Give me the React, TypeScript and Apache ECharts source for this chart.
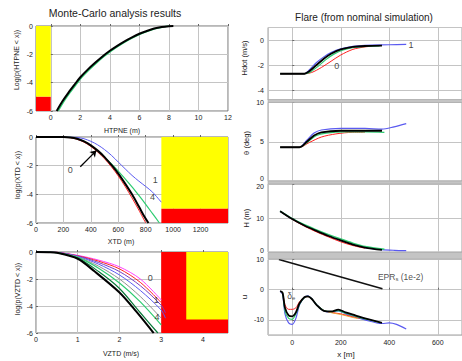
import { useEffect, useRef } from "react";
import * as echarts from "echarts";

// ---------- Left: Monte-Carlo results ----------
// HTPNE (m) vs log probability
const htpneBlack = [[0.4,-6],[0.8,-5.3],[1.2,-4.7],[1.6,-4.15],[2,-3.62],[2.5,-3.08],[3,-2.6],[3.5,-2.15],[4,-1.75],[4.5,-1.4],[5,-1.08],[5.5,-0.8],[6,-0.55],[6.5,-0.35],[7,-0.18],[7.5,-0.07],[8,-0.01],[8.3,0]];
const htpneGreen = [[0.5,-6],[0.9,-5.3],[1.3,-4.7],[1.7,-4.15],[2.1,-3.62],[2.6,-3.08],[3.1,-2.6],[3.6,-2.15],[4.1,-1.75],[4.6,-1.4],[5.1,-1.08],[5.6,-0.8],[6.1,-0.55],[6.6,-0.35],[7.1,-0.18],[7.6,-0.07],[8,0]];
const htpneYellow = [[-1, 0], [0, -5]];
const htpneRed = [[-1, -5], [0, -6]];

// XTD (m)
const xtdBlack = [[0,0],[200,0],[250,-0.03],[300,-0.12],[350,-0.3],[400,-0.58],[450,-0.95],[500,-1.4],[550,-1.95],[600,-2.55],[650,-3.25],[700,-4.0],[750,-4.85],[790,-5.55],[820,-6]];
const xtdRed = [[0,0],[180,0],[250,-0.05],[300,-0.16],[350,-0.36],[400,-0.66],[450,-1.05],[500,-1.52],[550,-2.08],[600,-2.72],[650,-3.45],[700,-4.25],[750,-5.1],[800,-6]];
const xtdGreen = [[0,0],[200,0],[250,-0.03],[300,-0.12],[350,-0.3],[400,-0.62],[450,-1.0],[500,-1.42],[550,-1.88],[600,-2.38],[650,-2.92],[700,-3.48],[750,-4.08],[800,-4.7],[850,-5.35],[900,-6]];
const xtdBlue = [[0,0],[250,0],[300,-0.03],[350,-0.12],[400,-0.3],[450,-0.55],[500,-0.88],[550,-1.28],[600,-1.75],[650,-2.22],[700,-2.68],[750,-3.08],[800,-3.45],[850,-3.85],[914,-4.55]];
const xtdYellow = [[914, 0], [1400, -5]];
const xtdRed2 = [[914, -5], [1400, -6]];
const xtdArrow = [[323, -2.07], [440, -0.95]];
const xtdLabels = [{ v: [249, -2.3], t: "0" }, { v: [870, -3.0], t: "1" }, { v: [850, -4.2], t: "4" }];

// VZTD (m/s)
const vztdBlack = [[0,0],[0.3,-0.01],[0.5,-0.05],[1.0,-0.5],[1.4,-1.43],[2.0,-3.0],[2.4,-4.4],[2.82,-6]];
const vztdDarkGreen = [[0,0],[0.3,-0.01],[0.5,-0.05],[1.0,-0.45],[1.5,-1.45],[2.0,-2.7],[2.5,-4.5],[2.92,-6]];
const vztdGreen = [[0,0],[0.3,-0.01],[0.5,-0.04],[1.0,-0.4],[1.5,-1.2],[2.0,-2.3],[2.5,-3.7],[3.0,-5.4]];
const vztdGray = [[0,0],[0.3,-0.01],[0.5,-0.04],[1.0,-0.37],[1.5,-1.05],[2.0,-2.0],[2.5,-3.3],[3.0,-4.9]];
const vztdBlue = [[0,0],[0.3,-0.01],[0.5,-0.03],[1.0,-0.33],[1.5,-0.9],[2.0,-1.7],[2.5,-2.85],[3.0,-4.3],[3.1,-4.9]];
const vztdPurple = [[0,0],[0.3,-0.01],[0.5,-0.03],[1.0,-0.3],[1.5,-0.78],[2.0,-1.45],[2.5,-2.5],[3.0,-3.95],[3.1,-4.5]];
const vztdRedLine = [[0,0],[0.3,0],[0.5,-0.02],[1.0,-0.28],[1.5,-0.68],[2.0,-1.25],[2.5,-2.25],[3.0,-3.75]];
const vztdMagenta = [[0,0],[0.3,0],[0.5,-0.02],[1.0,-0.25],[1.5,-0.6],[2.0,-1.1],[2.5,-2.0],[3.0,-3.55]];
const vztdRedArea = [[3, 0], [4.6, -6]];
const vztdYellow = [[3.6, 0], [4.6, -5]];
const vztdLabels = [{ v: [2.74, -1.9], t: "0" }, { v: [2.88, -3.55], t: "1" }, { v: [2.9, -4.8], t: "4" }];

// ---------- Right: Flare (nominal simulation) ----------
const hdotBlack = [[-50,-2.7],[50,-2.7],[70,-2.5],[100,-2.0],[130,-1.5],[160,-1.1],[200,-0.75],[250,-0.55],[300,-0.48],[370,-0.45]];
const hdotGreen = [[-50,-2.7],[50,-2.7],[75,-2.55],[110,-2.05],[140,-1.55],[170,-1.15],[210,-0.8],[260,-0.58],[310,-0.5],[360,-0.47]];
const hdotRed = [[-50,-2.7],[50,-2.7],[80,-2.6],[120,-2.2],[160,-1.7],[200,-1.2],[250,-0.75],[300,-0.55],[330,-0.5]];
const hdotBlue = [[-50,-2.7],[50,-2.7],[70,-2.4],[100,-1.8],[130,-1.35],[160,-1.0],[200,-0.7],[250,-0.5],[300,-0.42],[400,-0.38],[470,-0.35]];
const hdotLabels = [{ v: [183, -2.05], t: "0" }, { v: [490, -0.4], t: "1" }];

const thetaBlack = [[-50,4.3],[30,4.3],[60,5.0],[90,5.8],[120,6.2],[200,6.4],[300,6.4],[370,6.4]];
const thetaGreen = [[-50,4.3],[30,4.3],[65,5.0],[100,5.8],[140,6.1],[220,6.25],[300,6.25],[380,6.2]];
const thetaRed = [[-50,4.3],[30,4.3],[70,4.9],[120,5.6],[180,6.0],[250,6.2],[300,6.2]];
const thetaBlue = [[-50,4.3],[30,4.3],[60,5.2],[90,6.1],[120,6.5],[200,6.7],[300,6.7],[370,6.6],[420,6.9],[470,7.3]];

const hBlack = [[-50,12],[0,9.7],[50,7.8],[100,6.2],[150,4.7],[200,3.4],[250,2.2],[300,1.3],[370,0.6]];
const hGreen = [[-50,12],[0,9.8],[50,8.0],[100,6.5],[150,5.1],[200,3.8],[250,2.6],[300,1.6],[380,0.8]];
const hRed = [[-50,12],[0,9.6],[50,7.6],[100,5.9],[150,4.4],[200,3.0],[250,1.9],[300,1.1]];
const hBlue = [[-50,12],[0,9.7],[50,7.8],[100,6.2],[150,4.7],[200,3.4],[250,2.2],[300,1.3],[370,0.7],[420,0.5],[470,0.4]];

const uBlack = [[-50,-0.5],[-40,-1],[-30,-6],[-15,-8.5],[0,-8.8],[15,-7.5],[30,-4.5],[50,-2.5],[65,-2.2],[80,-3],[100,-5],[130,-7],[160,-7.2],[190,-6.6],[220,-7.5],[260,-8.5],[300,-9.5],[370,-11]];
const uGreen = [[-50,-0.5],[-40,-1],[-30,-7],[-15,-9.5],[0,-9.8],[15,-8],[30,-4.8],[50,-2.6],[65,-2.2],[80,-3],[100,-5],[130,-6.9],[160,-7.3],[190,-6.9],[220,-7.8],[260,-8.8],[300,-9.7],[360,-10.8]];
const uRed = [[-50,-0.5],[-40,-1],[-30,-5],[-15,-6.5],[0,-6.5],[15,-6],[30,-4],[50,-2.5],[65,-2.3],[80,-3.2],[100,-5],[130,-6.8],[160,-7.5],[200,-8],[250,-9],[280,-9.5]];
const uOrange = [[130,-6.9],[160,-7.6],[200,-8.2],[250,-9.2],[270,-9.5]];
const uBlue = [[-50,-0.5],[-40,-1.5],[-30,-8],[-15,-11],[0,-11.5],[15,-9.5],[30,-5],[50,-2.5],[65,-2],[80,-3],[100,-5],[130,-7],[160,-7.5],[190,-7],[220,-8],[260,-9],[300,-10],[370,-11.2],[400,-11],[430,-11.5],[470,-13]];
const eprLine = [[-55,10],[372,0.3]];

const FONT = "'Liberation Sans', Arial, Helvetica, sans-serif";
const TXT = "#222";

const grids = [
  { left: 36, top: 26, width: 192, height: 85 },
  { left: 36, top: 137, width: 192, height: 86 },
  { left: 36, top: 252, width: 192, height: 81 },
  { left: 268, top: 27.5, width: 198, height: 72.5 },
  { left: 268, top: 102.5, width: 198, height: 78.5 },
  { left: 268, top: 184, width: 198, height: 68 },
  { left: 268, top: 259.5, width: 198, height: 75.5 },
];

function lineS(data: number[][], color: string, idx: number, width = 1, z = 3, smooth: any = 0.3) {
  return {
    type: "line", xAxisIndex: idx, yAxisIndex: idx, data, showSymbol: false, symbol: "none",
    smooth, lineStyle: { color, width }, itemStyle: { color }, z, silent: true,
  };
}

function areaS(idx: number, areas: { r: number[][]; c: string }[]) {
  return {
    type: "line", xAxisIndex: idx, yAxisIndex: idx, data: [areas[0].r[0]], symbol: "none",
    lineStyle: { width: 0, opacity: 0 }, silent: true, z: 1,
    markArea: {
      silent: true,
      data: areas.map((a) => [
        { coord: a.r[0], itemStyle: { color: a.c, opacity: 1, borderWidth: 0 } },
        { coord: a.r[1] },
      ]),
    },
  };
}

function labelS(idx: number, items: { v: number[]; t: string }[], color = "#111", size = 9) {
  return {
    type: "scatter", xAxisIndex: idx, yAxisIndex: idx, symbolSize: 1, silent: true, z: 6,
    itemStyle: { color: "rgba(0,0,0,0)" },
    data: items.map((it) => ({ value: it.v, name: it.t })),
    label: { show: true, position: "inside", formatter: "{b}", color, fontSize: size, fontFamily: FONT },
  };
}

const plain = (v: number) => String(v);
const axLabel = { fontSize: 7, color: TXT, fontFamily: FONT, margin: 3, formatter: plain };
const splitL = (c = "#c4c4c4") => ({ show: true, lineStyle: { color: c, width: 1 } });
const tick = { show: true, inside: true, length: 2, lineStyle: { color: "#666" } };

function buildOption() {
  const xAxis: any[] = [
    { gridIndex: 0, type: "value", min: -1, max: 12, minInterval: 2, maxInterval: 2, axisLabel: { ...axLabel, showMinLabel: false }, splitLine: splitL(), axisTick: tick, axisLine: { show: false } },
    { gridIndex: 1, type: "value", min: 0, max: 1400, interval: 200, axisLabel: { ...axLabel, showMaxLabel: false }, splitLine: splitL(), axisTick: tick, axisLine: { show: false } },
    { gridIndex: 2, type: "value", min: 0, max: 4.6, interval: 1, axisLabel: { ...axLabel, showMaxLabel: false }, splitLine: splitL(), axisTick: tick, axisLine: { show: false } },
  ];
  for (let i = 3; i < 7; i++) {
    xAxis.push({
      gridIndex: i, type: "value", min: -100, max: 700, minInterval: 200, maxInterval: 200,
      axisLabel: { ...axLabel, margin: 4, show: i === 6, showMinLabel: false, showMaxLabel: false },
      splitLine: splitL(), axisTick: { ...tick, show: i === 6 }, axisLine: { show: false },
    });
  }
  const yAxis: any[] = [];
  for (let i = 0; i < 3; i++) {
    yAxis.push({ gridIndex: i, type: "value", min: -6, max: 0, interval: 2, axisLabel: axLabel, splitLine: splitL(), axisTick: tick, axisLine: { show: false } });
  }
  yAxis.push({ gridIndex: 3, type: "value", min: -4.8, max: 1, minInterval: 2, maxInterval: 2, axisLabel: { ...axLabel, margin: 4, showMinLabel: false, showMaxLabel: false }, splitLine: splitL(), axisTick: tick, axisLine: { show: false } });
  yAxis.push({
    gridIndex: 4, type: "value", min: 0, max: 10, interval: 5, splitLine: splitL(), axisTick: tick, axisLine: { show: false },
    axisLabel: { ...axLabel, margin: 4, formatter: (v: number) => (v === 0 ? "{up|0}" : String(v)), rich: { up: { fontSize: 7, fontFamily: FONT, color: TXT, padding: [0, 0, 5, 0] } } },
  });
  yAxis.push({
    gridIndex: 5, type: "value", min: 0, max: 20, interval: 10, splitLine: splitL(), axisTick: tick, axisLine: { show: false },
    axisLabel: { ...axLabel, margin: 4, formatter: (v: number) => (v === 20 ? "{dn|20}" : v === 0 ? "{up|0}" : String(v)), rich: { dn: { fontSize: 7, fontFamily: FONT, color: TXT, padding: [5, 0, 0, 0] }, up: { fontSize: 7, fontFamily: FONT, color: TXT, padding: [0, 0, 3, 0] } } },
  });
  yAxis.push({ gridIndex: 6, type: "value", min: -15, max: 10, minInterval: 10, maxInterval: 10, axisLabel: { ...axLabel, margin: 4, showMinLabel: false }, splitLine: splitL(), axisTick: tick, axisLine: { show: false } });

  const BL = "#000", RD = "#ff2020", GR = "#2ecc71", BU = "#5a5af0", DG = "#0a7a3a", GY = "#909090", PU = "#7a3fc0", MG = "#ff40ff", OR = "#f0a030";

  const series: any[] = [
    areaS(0, [{ r: htpneYellow, c: "#ffff00" }, { r: htpneRed, c: "#ff0000" }]),
    lineS(htpneGreen, GR, 0, 1.5),
    lineS(htpneBlack, BL, 0, 2),

    areaS(1, [{ r: xtdYellow, c: "#ffff00" }, { r: xtdRed2, c: "#ff0000" }]),
    lineS(xtdBlue, BU, 1, 1),
    lineS(xtdGreen, GR, 1, 1.2),
    lineS(xtdRed, RD, 1, 1),
    lineS(xtdBlack, BL, 1, 2),
    {
      type: "line", xAxisIndex: 1, yAxisIndex: 1, data: [], silent: true,
      markLine: {
        silent: true, symbolSize: 6, label: { show: false },
        lineStyle: { color: "#000", width: 1.3, type: "solid" },
        data: [[{ coord: xtdArrow[0], symbol: "none" }, { coord: xtdArrow[1], symbol: "arrow" }]],
      },
    },
    labelS(1, xtdLabels),

    areaS(2, [{ r: vztdRedArea, c: "#ff0000" }, { r: vztdYellow, c: "#ffff00" }]),
    lineS(vztdMagenta, MG, 2, 1),
    lineS(vztdRedLine, RD, 2, 1),
    lineS(vztdPurple, PU, 2, 1),
    lineS(vztdBlue, BU, 2, 1),
    lineS(vztdGray, GY, 2, 1),
    lineS(vztdGreen, GR, 2, 1.2),
    lineS(vztdDarkGreen, DG, 2, 1.2),
    lineS(vztdBlack, BL, 2, 2),
    labelS(2, vztdLabels),

    lineS(hdotBlue, BU, 3, 1.2),
    lineS(hdotRed, RD, 3, 1),
    lineS(hdotGreen, GR, 3, 1.2),
    lineS(hdotBlack, BL, 3, 1.8),
    labelS(3, hdotLabels),

    lineS(thetaBlue, BU, 4, 1.2),
    lineS(thetaRed, RD, 4, 1),
    lineS(thetaGreen, GR, 4, 1.2),
    lineS(thetaBlack, BL, 4, 1.8),

    lineS(hBlue, BU, 5, 1.2),
    lineS(hRed, RD, 5, 1),
    lineS(hGreen, GR, 5, 1.5),
    lineS(hBlack, BL, 5, 1.8),

    lineS(eprLine, "#111", 6, 1.5, 3, false),
    lineS(uBlue, BU, 6, 1.2),
    lineS(uRed, RD, 6, 1),
    lineS(uOrange, OR, 6, 1),
    lineS(uGreen, GR, 6, 1.2),
    lineS(uBlack, BL, 6, 1.8),
    {
      type: "scatter", xAxisIndex: 6, yAxisIndex: 6, symbolSize: 1, silent: true, z: 6,
      itemStyle: { color: "rgba(0,0,0,0)" },
      data: [
        { value: [447, 4.3], name: "epr" },
        { value: [-4, -2], name: "de" },
      ],
      label: {
        show: true, position: "inside", fontFamily: FONT, color: "#222",
        formatter: (p: any) => (p.name === "epr" ? "{a|EPR}{s|s}{a| (1e-2)}" : "{a|δ}{s|e}"),
        rich: {
          a: { fontSize: 8.5, fontFamily: FONT, color: "#222" },
          s: { fontSize: 6, fontFamily: FONT, color: "#222", padding: [5, 0, 0, 0] },
        },
      },
    },
  ];

  const rotText = (x: number, y: number, text: string, size = 7) => ({
    type: "text", x, y, rotation: Math.PI / 2, z: 50,
    style: { text, fontSize: size, fontFamily: FONT, fill: TXT, align: "center", verticalAlign: "middle" },
  });
  const hText = (x: number, y: number, text: string, size = 7) => ({
    type: "text", x, y, z: 50,
    style: { text, fontSize: size, fontFamily: FONT, fill: TXT, align: "center", verticalAlign: "middle" },
  });
  const band = (y: number, h: number) => ({
    type: "rect", z: 40, shape: { x: 268, y, width: 200, height: h },
    style: { fill: "#c4c4c4", stroke: "#a8a8a8", lineWidth: 0.6 },
  });

  const graphic = [
    hText(115, 13, "Monte-Carlo analysis results", 10.5),
    hText(364, 17, "Flare (from nominal simulation)", 10),
    hText(122, 130, "HTPNE (m)"),
    hText(121, 241, "XTD (m)"),
    hText(121, 353, "VZTD (m/s)"),
    hText(346, 354, "x [m]", 8),
    rotText(16, 60, "Log(p(HTPNE < x))"),
    rotText(17, 175, "log(p(XTD < x))"),
    rotText(17, 289, "log(p(VZTD < x))"),
    rotText(244, 58, "Hdot (m/s)", 7.5),
    rotText(246, 143, "θ (deg)", 7.5),
    rotText(246, 218, "H (m)", 7.5),
    rotText(244, 297, "u", 8),
    band(99.5, 3),
    band(181, 3),
    band(252.5, 6.5),
  ];

  return {
    animation: false,
    backgroundColor: "#ffffff",
    grid: grids.map((g, i) => ({
      ...g, show: true, backgroundColor: "#ffffff",
      borderColor: i < 3 ? "#707070" : "#a0a0a0", borderWidth: 1,
    })),
    xAxis, yAxis, series, graphic,
  };
}

export default function App() {
  const ref = useRef<HTMLDivElement>(null);
  useEffect(() => {
    if (!ref.current) return;
    const chart = echarts.init(ref.current, null, { renderer: "svg" });
    chart.setOption(buildOption() as any);
    return () => chart.dispose();
  }, []);
  return (
    <div
      ref={ref}
      style={{ position: "absolute", left: 0, top: 0, width: 462, height: 361, background: "#fff" }}
    />
  );
}
